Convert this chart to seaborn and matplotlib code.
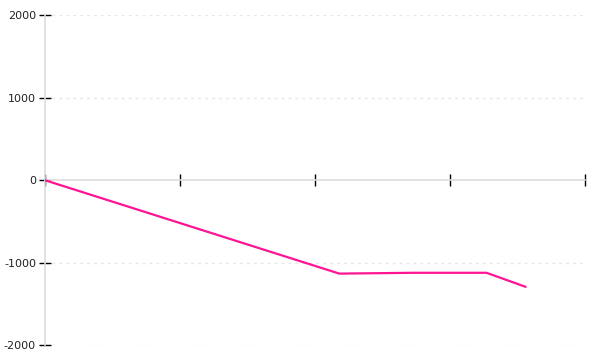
import matplotlib
matplotlib.use("Agg")
import matplotlib.pyplot as plt
import seaborn as sns
import pandas as pd

x_values = [0.0, 2.18, 2.73, 3.27, 3.56]
y_values = [0, -1130, -1120, -1120, -1290]
x_ticks = [0, 1, 2, 3, 4]
y_ticks = [-2000, -1000, 0, 1000, 2000]

sns.set_theme(style="white")
plt.rcParams['font.family'] = ['DejaVu Sans']

fig = plt.figure(figsize=(6, 3.6), dpi=100)
ax = fig.add_axes([0.075, 0.0403, 0.9, 0.918])

df = pd.DataFrame({"x": x_values, "y": y_values})
sns.lineplot(data=df, x="x", y="y", ax=ax, color="#ff1493", linewidth=1.6,
             estimator=None, sort=False, zorder=3)

ax.set_xlim(0, 4)
ax.set_ylim(-2000, 2000)
ax.set_xticks(x_ticks)
ax.set_xticklabels([])
ax.set_yticks(y_ticks)
ax.set_yticklabels([str(v) for v in y_ticks], fontsize=8, color="#222222")
ax.set_xlabel("")
ax.set_ylabel("")

for v in y_ticks:
    if v != 0:
        ax.axhline(v, color="#e6e6e6", linestyle=(0, (2, 3)), linewidth=1, zorder=0)

ax.spines['top'].set_visible(False)
ax.spines['right'].set_visible(False)
ax.spines['left'].set_color("#dddddd")
ax.spines['left'].set_linewidth(1.2)
ax.spines['bottom'].set_position(('data', 0))
ax.spines['bottom'].set_color("#dddddd")
ax.spines['bottom'].set_linewidth(1.2)

ax.tick_params(axis='x', direction='inout', length=9, width=1, color='black', bottom=True)
ax.tick_params(axis='y', direction='inout', length=9, width=1, color='black', left=True, pad=2)

fig.savefig("out.png", dpi=100)
